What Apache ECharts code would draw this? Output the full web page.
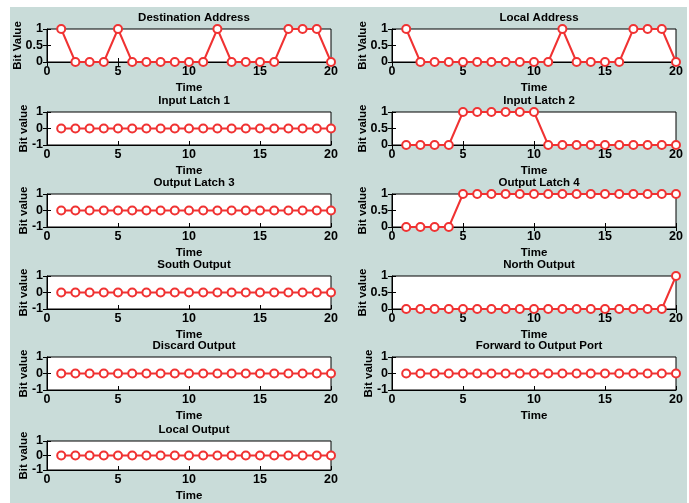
<!DOCTYPE html>
<html>
<head>
<meta charset="utf-8">
<script src="https://cdn.jsdelivr.net/npm/echarts@6/dist/echarts.min.js"></script>
<style>
  html, body { margin: 0; padding: 0; background: #fff; }
  #chart { width: 689px; height: 503px; }
</style>
</head>
<body>
<div id="chart"></div>
<script>
const time = [1, 2, 3, 4, 5, 6, 7, 8, 9, 10, 11, 12, 13, 14, 15, 16, 17, 18, 19, 20];
const xTicks = [0, 5, 10, 15, 20];

const destinationAddress = [1, 0, 0, 0, 1, 0, 0, 0, 0, 0, 0, 1, 0, 0, 0, 0, 1, 1, 1, 0];
const localAddress       = [1, 0, 0, 0, 0, 0, 0, 0, 0, 0, 0, 1, 0, 0, 0, 0, 1, 1, 1, 0];
const inputLatch1        = [0, 0, 0, 0, 0, 0, 0, 0, 0, 0, 0, 0, 0, 0, 0, 0, 0, 0, 0, 0];
const inputLatch2        = [0, 0, 0, 0, 1, 1, 1, 1, 1, 1, 0, 0, 0, 0, 0, 0, 0, 0, 0, 0];
const outputLatch3       = [0, 0, 0, 0, 0, 0, 0, 0, 0, 0, 0, 0, 0, 0, 0, 0, 0, 0, 0, 0];
const outputLatch4       = [0, 0, 0, 0, 1, 1, 1, 1, 1, 1, 1, 1, 1, 1, 1, 1, 1, 1, 1, 1];
const southOutput        = [0, 0, 0, 0, 0, 0, 0, 0, 0, 0, 0, 0, 0, 0, 0, 0, 0, 0, 0, 0];
const northOutput        = [0, 0, 0, 0, 0, 0, 0, 0, 0, 0, 0, 0, 0, 0, 0, 0, 0, 0, 0, 1];
const discardOutput      = [0, 0, 0, 0, 0, 0, 0, 0, 0, 0, 0, 0, 0, 0, 0, 0, 0, 0, 0, 0];
const forwardOutput      = [0, 0, 0, 0, 0, 0, 0, 0, 0, 0, 0, 0, 0, 0, 0, 0, 0, 0, 0, 0];
const localOutput        = [0, 0, 0, 0, 0, 0, 0, 0, 0, 0, 0, 0, 0, 0, 0, 0, 0, 0, 0, 0];

// title, data, y label, y range: [min, max, step]
const panels = [
  { title: "Destination Address", data: destinationAddress, yName: "Bit Value", y: [0, 1, 0.5], col: 0, row: 0 },
  { title: "Local Address", data: localAddress, yName: "Bit Value", y: [0, 1, 0.5], col: 1, row: 0 },
  { title: "Input Latch 1", data: inputLatch1, yName: "Bit value", y: [-1, 1, 1], col: 0, row: 1 },
  { title: "Input Latch 2", data: inputLatch2, yName: "Bit value", y: [0, 1, 0.5], col: 1, row: 1 },
  { title: "Output Latch 3", data: outputLatch3, yName: "Bit value", y: [-1, 1, 1], col: 0, row: 2 },
  { title: "Output Latch 4", data: outputLatch4, yName: "Bit value", y: [0, 1, 0.5], col: 1, row: 2 },
  { title: "South Output", data: southOutput, yName: "Bit value", y: [-1, 1, 1], col: 0, row: 3 },
  { title: "North Output", data: northOutput, yName: "Bit value", y: [0, 1, 0.5], col: 1, row: 3 },
  { title: "Discard Output", data: discardOutput, yName: "Bit value", y: [-1, 1, 1], col: 0, row: 4 },
  { title: "Forward to Output Port", data: forwardOutput, yName: "Bit value", y: [-1, 1, 1], col: 1, row: 4 },
  { title: "Local Output", data: localOutput, yName: "Bit value", y: [-1, 1, 1], col: 0, row: 5 },
];

const FONT = "'Liberation Sans', Arial, sans-serif";
const RED = "#f03232";
const colLeft = [47, 392];
const plotW = 284;
const plotH = 33;
const rowTop = [29, 112, 194, 276, 357, 441];

const textBold = { fontFamily: FONT, fontWeight: "bold", fontSize: 12, color: "#000" };

const chart = echarts.init(document.getElementById("chart"));

const grid = [], xAxis = [], yAxis = [], series = [], title = [];

panels.forEach((p, i) => {
  const left = colLeft[p.col];
  const top = rowTop[p.row];
  grid.push({
    left: left, top: top, width: plotW, height: plotH,
    show: true, backgroundColor: "#fff", borderColor: "#000", borderWidth: 1,
  });
  title.push({
    text: p.title,
    left: left + plotW / 2,
    top: top - 22,
    textAlign: "center",
    textStyle: { ...textBold, fontSize: 11.5 },
  });
  const tick = { show: true, inside: true, length: 4, lineStyle: { color: "#000" } };
  // bottom / left axes with labels
  xAxis.push({
    gridIndex: i, type: "value", min: 0, max: 20, interval: 5,
    name: "Time", nameLocation: "middle", nameGap: 20,
    nameTextStyle: { ...textBold, fontSize: 11.5 },
    axisLine: { show: true, onZero: false, lineStyle: { color: "#000" } },
    axisTick: tick,
    axisLabel: { ...textBold, fontSize: 12.5, margin: 3 },
    splitLine: { show: false },
  });
  // top axis, ticks only
  xAxis.push({
    gridIndex: i, type: "value", position: "top", min: 0, max: 20, interval: 5,
    axisLine: { show: false }, axisTick: tick, axisLabel: { show: false }, splitLine: { show: false },
  });
  yAxis.push({
    gridIndex: i, type: "value", min: p.y[0], max: p.y[1], interval: p.y[2],
    name: p.yName, nameLocation: "middle", nameGap: p.y[2] === 0.5 ? 23 : 17, nameRotate: 90,
    nameMoveOverlap: false,
    nameTextStyle: { ...textBold, fontSize: 11.5 },
    axisLine: { show: true, onZero: false, lineStyle: { color: "#000" } },
    axisTick: tick,
    axisLabel: { ...textBold, fontSize: 12.5, margin: 4 },
    splitLine: { show: false },
  });
  yAxis.push({
    gridIndex: i, type: "value", position: "right", min: p.y[0], max: p.y[1], interval: p.y[2],
    axisLine: { show: false }, axisTick: tick, axisLabel: { show: false }, splitLine: { show: false },
  });
  series.push({
    type: "line",
    xAxisIndex: i * 2,
    yAxisIndex: i * 2,
    data: time.map((t, k) => [t, p.data[k]]),
    symbol: "emptyCircle",
    symbolSize: 8,
    showSymbol: true,
    lineStyle: { color: RED, width: 2 },
    itemStyle: { color: RED, borderColor: RED, borderWidth: 2 },
    animation: false,
    clip: false,
  });
});

chart.setOption({
  backgroundColor: "#fff",
  animation: false,
  graphic: [{
    type: "rect", z: -10, silent: true,
    shape: { x: 10, y: 7, width: 677, height: 496 },
    style: { fill: "#c9dcd9" },
  }],
  title: title,
  grid: grid,
  xAxis: xAxis,
  yAxis: yAxis,
  series: series,
});
</script>
</body>
</html>
